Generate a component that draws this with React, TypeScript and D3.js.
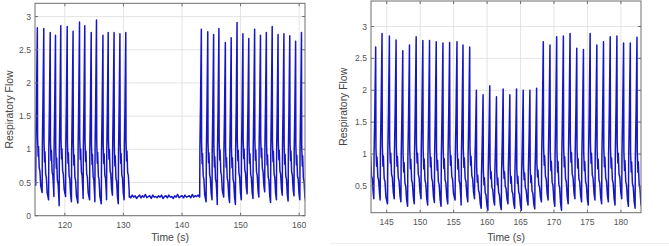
import React from "react";
import * as d3 from "d3";

// peak time (s), peak flow and the trough before each breath
const leftA_times = [115.3, 116.4, 117.5, 118.4, 119.3, 120.4, 121.4, 122.5, 123.4, 124.5, 125.4, 126.5, 127.4, 128.4, 129.4, 130.4];
const leftA_peaks = [2.83, 2.82, 2.76, 2.72, 2.86, 2.85, 2.78, 2.92, 2.86, 2.76, 2.95, 2.72, 2.76, 2.76, 2.74, 2.76];
const leftA_troughs = [0.45, 0.35, 0.24, 0.29, 0.15, 0.29, 0.21, 0.19, 0.26, 0.24, 0.21, 0.18, 0.24, 0.31, 0.18, 0.24, 0.28];

// apnea stretch, one value every 0.25 s from 131 s
const apneaStart = 131.0;
const apneaValues = [
  0.30, 0.27, 0.31, 0.28, 0.30, 0.26, 0.29, 0.31, 0.27, 0.30,
  0.28, 0.32, 0.27, 0.29, 0.30, 0.26, 0.31, 0.28, 0.29, 0.27,
  0.30, 0.28, 0.31, 0.26, 0.29, 0.30, 0.27, 0.31, 0.28, 0.29,
  0.26, 0.30, 0.28, 0.32, 0.27, 0.29, 0.30, 0.27, 0.31, 0.28,
  0.29, 0.30, 0.27, 0.32, 0.28, 0.30, 0.29, 0.31, 0.28,
];

const leftB_times = [143.3, 144.4, 145.4, 146.3, 147.4, 148.4, 149.4, 150.4, 151.4, 152.4, 153.4, 154.4, 155.4, 156.4, 157.4, 158.4, 159.4, 160.4];
const leftB_peaks = [2.81, 2.77, 2.73, 2.82, 2.61, 2.68, 2.91, 2.74, 2.67, 2.81, 2.72, 2.76, 2.85, 2.73, 2.74, 2.71, 2.63, 2.76];
const leftB_troughs = [0.28, 0.21, 0.24, 0.17, 0.28, 0.20, 0.17, 0.24, 0.33, 0.26, 0.28, 0.36, 0.20, 0.24, 0.31, 0.22, 0.30, 0.24, 0.18];

const right_times = [
  142.4, 143.35, 144.3, 145.4, 146.4, 147.4, 148.4, 149.4, 150.4, 151.4, 152.4, 153.4, 154.4, 155.5, 156.4, 157.4,
  158.4, 159.4, 160.4, 161.4, 162.4, 163.4, 164.4, 165.4, 166.4, 167.4,
  168.4, 169.4, 170.4, 171.4, 172.4, 173.4, 174.4, 175.4, 176.4, 177.4, 178.4, 179.4, 180.4, 181.4, 182.4,
];
const right_peaks = [
  2.70, 2.68, 2.89, 2.85, 2.79, 2.62, 2.71, 2.84, 2.78, 2.78, 2.76, 2.74, 2.75, 2.76, 2.71, 2.68,
  2.00, 1.93, 2.07, 1.90, 2.02, 1.93, 2.02, 2.00, 2.00, 2.03,
  2.76, 2.71, 2.84, 2.85, 2.89, 2.66, 2.64, 2.89, 2.71, 2.76, 2.84, 2.85, 2.74, 2.74, 2.83,
];
const right_troughs = [
  0.30, 0.30, 0.28, 0.22, 0.30, 0.25, 0.18, 0.22, 0.30, 0.20, 0.24, 0.18, 0.22, 0.28, 0.20, 0.25,
  0.30, 0.15, 0.12, 0.20, 0.13, 0.22, 0.15, 0.12, 0.20, 0.14,
  0.25, 0.28, 0.18, 0.12, 0.22, 0.30, 0.25, 0.20, 0.28, 0.22, 0.25, 0.20, 0.30, 0.18, 0.15, 0.12,
];

const leftXTicks = [120, 130, 140, 150, 160];
const leftYTicks = [0, 0.5, 1, 1.5, 2, 2.5, 3];
const rightXTicks = [145, 150, 155, 160, 165, 170, 175, 180];
const rightYTicks = [0.5, 1, 1.5, 2, 2.5, 3];

// shape of one breath: seconds after onset, fraction of the way from trough to peak
const breathShape: [number, number][] = [
  [0, 0], [0.04, 0.3], [0.14, 0.55], [0.28, 1], [0.32, 0.34], [0.42, 0.22],
  [0.48, 0.28], [0.6, 0.15], [0.72, 0.13], [0.86, 0.04],
];
const PEAK_AT = 0.28;

type Pt = [number, number];

function breathPoints(times: number[], peaks: number[], troughs: number[], end: number): Pt[] {
  const pts: Pt[] = [];
  times.forEach((t, i) => {
    const t0 = t - PEAK_AT;
    const t1 = i < times.length - 1 ? times[i + 1] - PEAK_AT : end;
    breathShape.forEach(([dt, lvl]) => {
      if (t0 + dt >= t1) return;
      const tr = dt <= PEAK_AT ? troughs[i] : troughs[i + 1];
      pts.push([t0 + dt, tr + lvl * (peaks[i] - tr)]);
    });
  });
  pts.push([end, troughs[troughs.length - 1]]);
  return pts;
}

const leftPoints: Pt[] = [
  ...breathPoints(leftA_times, leftA_peaks, leftA_troughs, apneaStart),
  ...apneaValues.map((v, i) => [apneaStart + i * 0.25, v] as Pt),
  ...breathPoints(leftB_times, leftB_peaks, leftB_troughs, 161.2),
];
const rightPoints: Pt[] = breathPoints(right_times, right_peaks, right_troughs, 183.2);

const FONT = "'Liberation Sans', Arial, Helvetica, sans-serif";

type Frame = { left: number; right: number; top: number; bottom: number };

function Panel(props: {
  id: string;
  frame: Frame;
  xDomain: [number, number];
  yDomain: [number, number];
  xTicks: number[];
  yTicks: number[];
  points: Pt[];
  ylabelX: number;
}) {
  const { id, frame, xDomain, yDomain, xTicks, yTicks, points, ylabelX } = props;
  const x = d3.scaleLinear().domain(xDomain).range([frame.left, frame.right]);
  const y = d3.scaleLinear().domain(yDomain).range([frame.bottom, frame.top]);
  const line = d3.line<Pt>().x((d) => x(d[0])).y((d) => y(d[1]));
  const tl = 3;
  const midX = (frame.left + frame.right) / 2;
  const midY = (frame.top + frame.bottom) / 2;

  return (
    <g>
      <defs>
        <clipPath id={id}>
          <rect x={frame.left} y={frame.top} width={frame.right - frame.left} height={frame.bottom - frame.top} />
        </clipPath>
      </defs>
      {/* grid */}
      {xTicks.map((t) => (
        <line key={"gx" + t} x1={x(t)} x2={x(t)} y1={frame.top} y2={frame.bottom} stroke="#dedede" strokeWidth={0.8} />
      ))}
      {yTicks.map((t) => (
        <line key={"gy" + t} x1={frame.left} x2={frame.right} y1={y(t)} y2={y(t)} stroke="#dedede" strokeWidth={0.8} />
      ))}
      <path d={line(points) || ""} fill="none" stroke="#1717c2" strokeWidth={1.5} strokeLinejoin="round" clipPath={`url(#${id})`} />
      <rect x={frame.left} y={frame.top} width={frame.right - frame.left} height={frame.bottom - frame.top} fill="none" stroke="#6e6e6e" strokeWidth={1} />
      {/* inward ticks on all four sides */}
      {xTicks.map((t) => (
        <g key={"tx" + t}>
          <line x1={x(t)} x2={x(t)} y1={frame.bottom} y2={frame.bottom - tl} stroke="#6e6e6e" />
          <line x1={x(t)} x2={x(t)} y1={frame.top} y2={frame.top + tl} stroke="#6e6e6e" />
          <text x={x(t)} y={frame.bottom + 12} textAnchor="middle" fontSize={8.6} fill="#555" fontFamily={FONT}>
            {t}
          </text>
        </g>
      ))}
      {yTicks.map((t) => (
        <g key={"ty" + t}>
          <line x1={frame.left} x2={frame.left + tl} y1={y(t)} y2={y(t)} stroke="#6e6e6e" />
          <line x1={frame.right} x2={frame.right - tl} y1={y(t)} y2={y(t)} stroke="#6e6e6e" />
          <text x={frame.left - 4} y={y(t) + 3} textAnchor="end" fontSize={8.6} fill="#555" fontFamily={FONT}>
            {t}
          </text>
        </g>
      ))}
      <text x={midX} y={240.5} textAnchor="middle" fontSize={10.4} fill="#444" fontFamily={FONT}>
        Time (s)
      </text>
      <text
        transform={`translate(${ylabelX},${midY}) rotate(-90)`}
        textAnchor="middle"
        fontSize={10.4}
        fill="#444"
        fontFamily={FONT}
      >
        Respiratory Flow
      </text>
    </g>
  );
}

export default function App() {
  return (
    <svg
      width={669}
      height={246}
      style={{ position: "absolute", left: 0, top: 0, background: "#fff" }}
    >
      <line x1={330} x2={669} y1={243.5} y2={243.5} stroke="#f0f0f0" strokeWidth={1} />
      <Panel
        id="clipL"
        frame={{ left: 35, right: 305, top: 3.3, bottom: 215.7 }}
        xDomain={[114.9, 161]}
        yDomain={[0, 3.2]}
        xTicks={leftXTicks}
        yTicks={leftYTicks}
        points={leftPoints}
        ylabelX={13}
      />
      <Panel
        id="clipR"
        frame={{ left: 371, right: 641, top: 1, bottom: 212.7 }}
        xDomain={[142.65, 183]}
        yDomain={[0.08, 3.4]}
        xTicks={rightXTicks}
        yTicks={rightYTicks}
        points={rightPoints}
        ylabelX={347}
      />
    </svg>
  );
}
